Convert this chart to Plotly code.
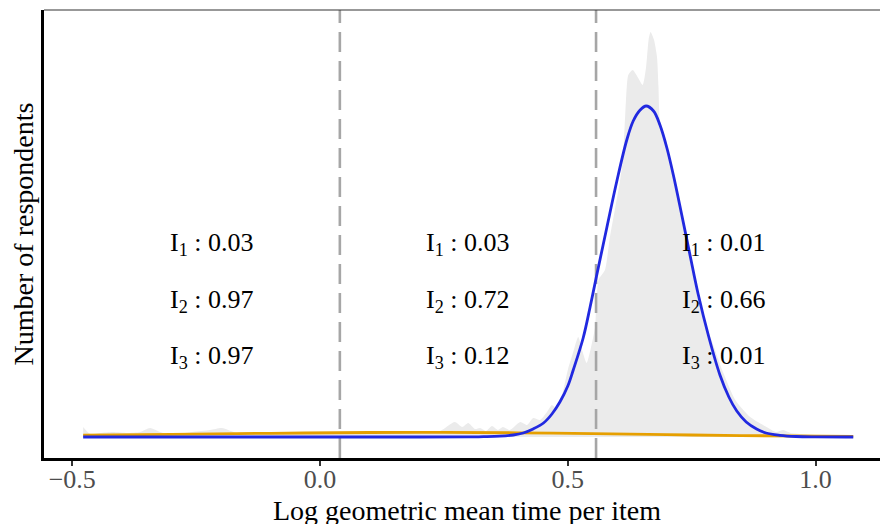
import plotly.graph_objects as go

# Observed distribution of log geometric mean time per item (smoothed counts)
density_x = [-0.478, -0.464, -0.444, -0.418, -0.389, -0.363, -0.343, -0.317, -0.287,
             -0.258, -0.222, -0.198, -0.168, -0.147, -0.121, -0.101, -0.067, -0.040,
             0.000, 0.040, 0.081, 0.121, 0.161, 0.202, 0.242, 0.272, 0.287, 0.299,
             0.313, 0.323, 0.335, 0.347, 0.359, 0.369, 0.383, 0.404, 0.418, 0.430,
             0.444, 0.458, 0.468, 0.478, 0.490, 0.500, 0.511, 0.521, 0.530, 0.538,
             0.547, 0.555, 0.562, 0.575, 0.585, 0.596, 0.605, 0.611, 0.619, 0.622,
             0.631, 0.642, 0.651, 0.658, 0.663, 0.667, 0.674, 0.680, 0.683, 0.686,
             0.698, 0.713, 0.727, 0.739, 0.752, 0.767, 0.790, 0.814, 0.838, 0.868,
             0.901, 0.920, 0.935, 0.950, 0.969, 1.000, 1.040, 1.076]
density_y = [0.10, 0.03, 0.04, 0.05, 0.04, 0.05, 0.09, 0.04, 0.03,
             0.05, 0.07, 0.09, 0.04, 0.05, 0.03, 0.05, 0.04, 0.05,
             0.04, 0.05, 0.04, 0.05, 0.05, 0.04, 0.06, 0.15, 0.10, 0.14,
             0.08, 0.09, 0.06, 0.11, 0.07, 0.10, 0.07, 0.15, 0.12, 0.19,
             0.17, 0.25, 0.32, 0.28, 0.45, 0.67, 0.85, 1.00, 0.85, 0.74,
             0.90, 1.10, 1.57, 1.67, 2.00, 2.30, 2.55, 2.77, 3.50, 3.62,
             3.67, 3.59, 3.52, 3.70, 3.97, 4.05, 3.97, 3.80, 3.50, 3.17,
             2.97, 2.64, 2.30, 1.97, 1.64, 1.30, 0.97, 0.64, 0.37, 0.20,
             0.10, 0.05, 0.07, 0.04, 0.03, 0.02, 0.01, 0.01]

# Fitted mixture component: fast responders (orange)
comp1_x = [-0.478, -0.30, -0.10, 0.10, 0.25, 0.40, 0.55, 0.70, 0.85, 1.076]
comp1_y = [0.018, 0.027, 0.037, 0.045, 0.047, 0.042, 0.033, 0.023, 0.014, 0.006]

# Fitted mixture component: regular responders (blue)
comp2_x = [-0.478, 0.00, 0.20, 0.30, 0.330, 0.363, 0.390, 0.410, 0.430, 0.451,
           0.468, 0.484, 0.500, 0.511, 0.531, 0.545, 0.558, 0.579, 0.599, 0.619,
           0.632, 0.646, 0.658, 0.673, 0.686, 0.700, 0.713, 0.730, 0.747, 0.763,
           0.784, 0.807, 0.825, 0.841, 0.860, 0.881, 0.900, 0.928, 0.960, 1.000,
           1.076]
comp2_y = [0.0, 0.0, 0.0, 0.001, 0.003, 0.008, 0.02, 0.04, 0.08, 0.14,
           0.23, 0.35, 0.51, 0.67, 0.99, 1.30, 1.61, 2.10, 2.56, 2.97,
           3.16, 3.27, 3.31, 3.26, 3.12, 2.89, 2.62, 2.22, 1.81, 1.43,
           1.01, 0.62, 0.40, 0.26, 0.15, 0.08, 0.04, 0.017, 0.005, 0.001,
           0.0]

# Classification cut points
cutoffs = [0.040, 0.557]

# Per-region indicator shares
label_x = [-0.219, 0.298, 0.816]
label_y = [1.93, 1.36, 0.80]
share_I1 = [0.03, 0.03, 0.01]
share_I2 = [0.97, 0.72, 0.66]
share_I3 = [0.97, 0.12, 0.01]

x_range = [-0.557, 1.130]
y_range = [-0.21, 4.27]

SERIF = "Liberation Serif, Times New Roman, serif"

fig = go.Figure()

fig.add_trace(go.Scatter(
    x=density_x, y=density_y, mode="lines", fill="tozeroy",
    line=dict(width=0, shape="spline", smoothing=0.6),
    fillcolor="#EBEBEB", hoverinfo="skip"))

for c in cutoffs:
    fig.add_trace(go.Scatter(
        x=[c, c], y=y_range, mode="lines",
        line=dict(color="#A6A6A6", width=2.6, dash="20px,9px"),
        hoverinfo="skip"))

fig.add_trace(go.Scatter(
    x=comp1_x, y=comp1_y, mode="lines",
    line=dict(color="#E69F00", width=2.8, shape="spline", smoothing=1.0)))

fig.add_trace(go.Scatter(
    x=comp2_x, y=comp2_y, mode="lines",
    line=dict(color="#2129E0", width=2.8, shape="spline", smoothing=1.0)))

rows = [("1", share_I1), ("2", share_I2), ("3", share_I3)]
for (sub, vals), yy in zip(rows, label_y):
    for xx, v in zip(label_x, vals):
        fig.add_annotation(
            x=xx, y=yy, xref="x", yref="y", showarrow=False,
            text=f"I<sub>{sub}</sub> : {v:.2f}",
            font=dict(family=SERIF, size=26, color="#000000"),
            xanchor="center", yanchor="middle")

# x-axis title, centred under the data panel
fig.add_annotation(
    x=0.506, y=0, xref="paper", yref="paper", showarrow=False,
    text="Log geometric mean time per item",
    font=dict(family=SERIF, size=28, color="#000000"),
    xanchor="center", yanchor="top", yshift=-35)

# thin frame line along the top of the panel
fig.add_shape(type="line", xref="paper", yref="paper", x0=0, x1=1, y0=1, y1=1,
              line=dict(color="#333333", width=1.2))

fig.update_layout(
    width=880, height=524,
    margin=dict(l=44, r=0, t=10, b=66),
    paper_bgcolor="white", plot_bgcolor="white",
    showlegend=False,
    font=dict(family=SERIF),
    xaxis=dict(
        range=x_range, tickvals=[-0.5, 0.0, 0.5, 1.0],
        ticktext=["\u22120.5", "0.0", "0.5", "1.0"],
        showgrid=False, zeroline=False,
        showline=True, linecolor="#000000", linewidth=3,
        ticks="outside", ticklen=5, tickwidth=2, tickcolor="#333333",
        ticklabelstandoff=-9,
        tickfont=dict(family=SERIF, size=26, color="#4D4D4D"),
    ),
    yaxis=dict(
        range=y_range, showticklabels=False, ticks="",
        showgrid=False, zeroline=False,
        showline=True, linecolor="#000000", linewidth=3,
        title=dict(text="Number of respondents",
                   font=dict(family=SERIF, size=28, color="#000000"),
                   standoff=0),
    ),
)

fig.write_html("out.html")
